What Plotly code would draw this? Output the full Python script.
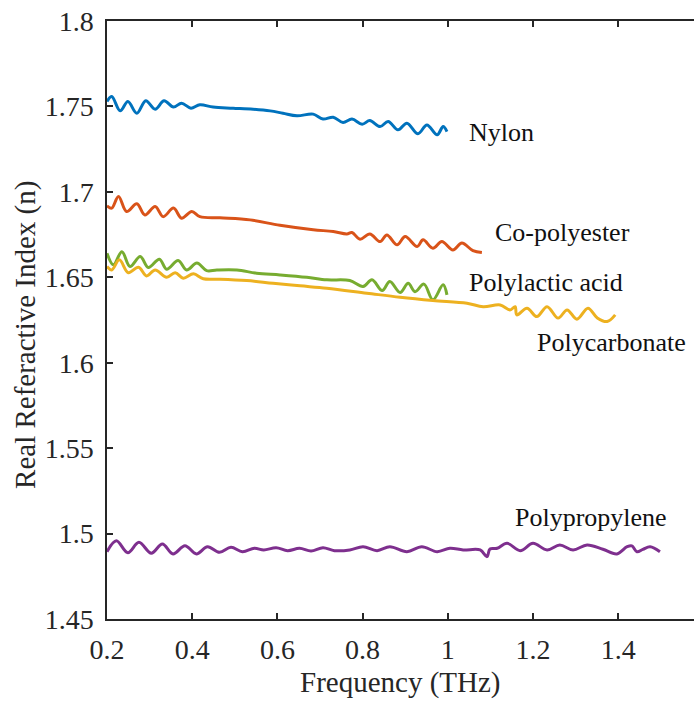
import plotly.graph_objects as go

# Real refractive index vs frequency for five polymers (THz time-domain spectroscopy)
nylon_f = [0.200, 0.211, 0.231, 0.249, 0.270, 0.291, 0.313, 0.334, 0.356, 0.375, 0.397, 0.418,
           0.449, 0.496, 0.543, 0.583, 0.613, 0.646, 0.684, 0.707, 0.731, 0.754, 0.775, 0.799,
           0.817, 0.841, 0.860, 0.883, 0.904, 0.930, 0.951, 0.975, 0.989, 0.998]
nylon_n = [1.7529, 1.7558, 1.7474, 1.7529, 1.7460, 1.7533, 1.7484, 1.7533, 1.7496, 1.7519, 1.7490, 1.7510,
           1.7496, 1.7490, 1.7484, 1.7474, 1.7460, 1.7445, 1.7455, 1.7426, 1.7437, 1.7406, 1.7426, 1.7396,
           1.7417, 1.7382, 1.7412, 1.7363, 1.7402, 1.7340, 1.7392, 1.7334, 1.7382, 1.7353]

copoly_f = [0.200, 0.211, 0.227, 0.246, 0.270, 0.289, 0.313, 0.332, 0.356, 0.375, 0.399, 0.418,
            0.465, 0.536, 0.606, 0.684, 0.731, 0.763, 0.775, 0.794, 0.817, 0.841, 0.857, 0.881,
            0.900, 0.928, 0.942, 0.965, 0.986, 1.012, 1.033, 1.059, 1.080]
copoly_n = [1.6918, 1.6905, 1.6973, 1.6885, 1.6930, 1.6865, 1.6914, 1.6855, 1.6905, 1.6846, 1.6885, 1.6855,
            1.6848, 1.6836, 1.6804, 1.6778, 1.6768, 1.6754, 1.6762, 1.6723, 1.6754, 1.6709, 1.6748, 1.6690,
            1.6738, 1.6680, 1.6719, 1.6670, 1.6709, 1.6660, 1.6700, 1.6656, 1.6645]

pla_f = [0.200, 0.215, 0.235, 0.254, 0.278, 0.297, 0.323, 0.340, 0.367, 0.387, 0.411, 0.434,
         0.458, 0.505, 0.551, 0.606, 0.669, 0.716, 0.770, 0.801, 0.822, 0.846, 0.864, 0.888,
         0.907, 0.923, 0.944, 0.965, 0.989, 0.998]
pla_n = [1.6641, 1.6573, 1.6650, 1.6563, 1.6621, 1.6557, 1.6606, 1.6547, 1.6598, 1.6543, 1.6583, 1.6539,
         1.6543, 1.6543, 1.6524, 1.6514, 1.6500, 1.6485, 1.6481, 1.6446, 1.6485, 1.6422, 1.6475, 1.6411,
         1.6465, 1.6416, 1.6460, 1.6368, 1.6456, 1.6397]

pc_f = [0.200, 0.211, 0.229, 0.250, 0.274, 0.293, 0.313, 0.340, 0.360, 0.379, 0.403, 0.426,
        0.465, 0.528, 0.590, 0.653, 0.716, 0.810, 0.888, 0.965, 1.045, 1.083, 1.123, 1.146,
        1.158, 1.162, 1.186, 1.209, 1.233, 1.259, 1.280, 1.303, 1.329, 1.351, 1.374, 1.393]
pc_n = [1.6563, 1.6543, 1.6602, 1.6527, 1.6559, 1.6508, 1.6543, 1.6500, 1.6527, 1.6495, 1.6520, 1.6491,
        1.6489, 1.6481, 1.6465, 1.6450, 1.6436, 1.6407, 1.6383, 1.6364, 1.6348, 1.6328, 1.6338, 1.6309,
        1.6328, 1.6280, 1.6319, 1.6270, 1.6328, 1.6261, 1.6309, 1.6255, 1.6319, 1.6262, 1.6241, 1.6280]

pp_f = [0.200, 0.222, 0.249, 0.275, 0.304, 0.330, 0.355, 0.383, 0.410, 0.436, 0.464, 0.491,
        0.518, 0.546, 0.568, 0.597, 0.624, 0.652, 0.679, 0.707, 0.734, 0.770, 0.801, 0.834,
        0.864, 0.904, 0.939, 0.975, 1.005, 1.036, 1.076, 1.092, 1.099, 1.116, 1.139, 1.170,
        1.200, 1.233, 1.263, 1.294, 1.327, 1.364, 1.397, 1.421, 1.432, 1.444, 1.458, 1.475, 1.498]
pp_n = [1.4894, 1.4958, 1.4888, 1.4949, 1.4885, 1.4939, 1.4881, 1.4929, 1.4881, 1.4923, 1.4890, 1.4920,
        1.4894, 1.4914, 1.4904, 1.4917, 1.4900, 1.4914, 1.4898, 1.4917, 1.4900, 1.4904, 1.4923, 1.4900,
        1.4923, 1.4894, 1.4923, 1.4894, 1.4914, 1.4904, 1.4904, 1.4865, 1.4910, 1.4914, 1.4943, 1.4900,
        1.4943, 1.4904, 1.4933, 1.4904, 1.4933, 1.4908, 1.4881, 1.4923, 1.4928, 1.4894, 1.4908, 1.4923, 1.4894]

series = [
    ("Nylon", nylon_f, nylon_n, "#0072BD"),
    ("Co-polyester", copoly_f, copoly_n, "#D95319"),
    ("Polylactic acid", pla_f, pla_n, "#77AC30"),
    ("Polycarbonate", pc_f, pc_n, "#EDB120"),
    ("Polypropylene", pp_f, pp_n, "#7E2F8E"),
]

# Inline labels: (text, x, y) anchored at left/middle
labels = [
    ("Nylon", 1.045, 1.7345),
    ("Co-polyester", 1.106, 1.676),
    ("Polylactic acid", 1.045, 1.6467),
    ("Polycarbonate", 1.205, 1.6116),
    ("Polypropylene", 1.153, 1.5097),
]

x_ticks = [0.2, 0.4, 0.6, 0.8, 1.0, 1.2, 1.4]
x_ticktext = ["0.2", "0.4", "0.6", "0.8", "1", "1.2", "1.4"]
y_ticks = [1.45, 1.5, 1.55, 1.6, 1.65, 1.7, 1.75, 1.8]
y_ticktext = ["1.45", "1.5", "1.55", "1.6", "1.65", "1.7", "1.75", "1.8"]

FONT = "Liberation Serif"
AXIS = "#262626"

fig = go.Figure()
for name, f, n, color in series:
    fig.add_trace(go.Scatter(
        x=f, y=n, mode="lines", name=name,
        line=dict(color=color, width=3, shape="spline", smoothing=1.0),
        showlegend=False,
    ))

for text, x, y in labels:
    fig.add_annotation(x=x, y=y, text=text, showarrow=False, xanchor="left", yanchor="middle",
                       font=dict(family=FONT, size=26, color="#111111"))

# Axis titles placed as paper-anchored text
fig.add_annotation(xref="paper", yref="paper", x=0.5, y=-0.107, text="Frequency (THz)",
                   showarrow=False, xanchor="center", yanchor="middle",
                   font=dict(family=FONT, size=29, color=AXIS))
fig.add_annotation(xref="paper", yref="paper", x=-0.138, y=0.475, text="Real Referactive Index (n)",
                   showarrow=False, textangle=-90, xanchor="center", yanchor="middle",
                   font=dict(family=FONT, size=29, color=AXIS))

fig.update_xaxes(
    range=[0.2, 0.2 + 587 / 426], tickvals=x_ticks, ticktext=x_ticktext,
    ticks="inside", ticklen=6, tickwidth=1.5, tickcolor=AXIS,
    showline=True, linecolor=AXIS, linewidth=1.5, mirror="ticks",
    showgrid=False, zeroline=False, ticklabelstandoff=5,
    tickfont=dict(family=FONT, size=28, color=AXIS),
)
fig.update_yaxes(
    range=[1.45, 1.8], tickvals=y_ticks, ticktext=y_ticktext,
    ticks="inside", ticklen=6, tickwidth=1.5, tickcolor=AXIS,
    showline=True, linecolor=AXIS, linewidth=1.5, mirror=False,
    showgrid=False, zeroline=False, ticklabelstandoff=6,
    tickfont=dict(family=FONT, size=28, color=AXIS),
)

fig.update_layout(
    width=694, height=703,
    margin=dict(l=107, r=0, t=21, b=84),
    paper_bgcolor="white", plot_bgcolor="white",
    font=dict(family=FONT),
)

fig.write_html("out.html")
